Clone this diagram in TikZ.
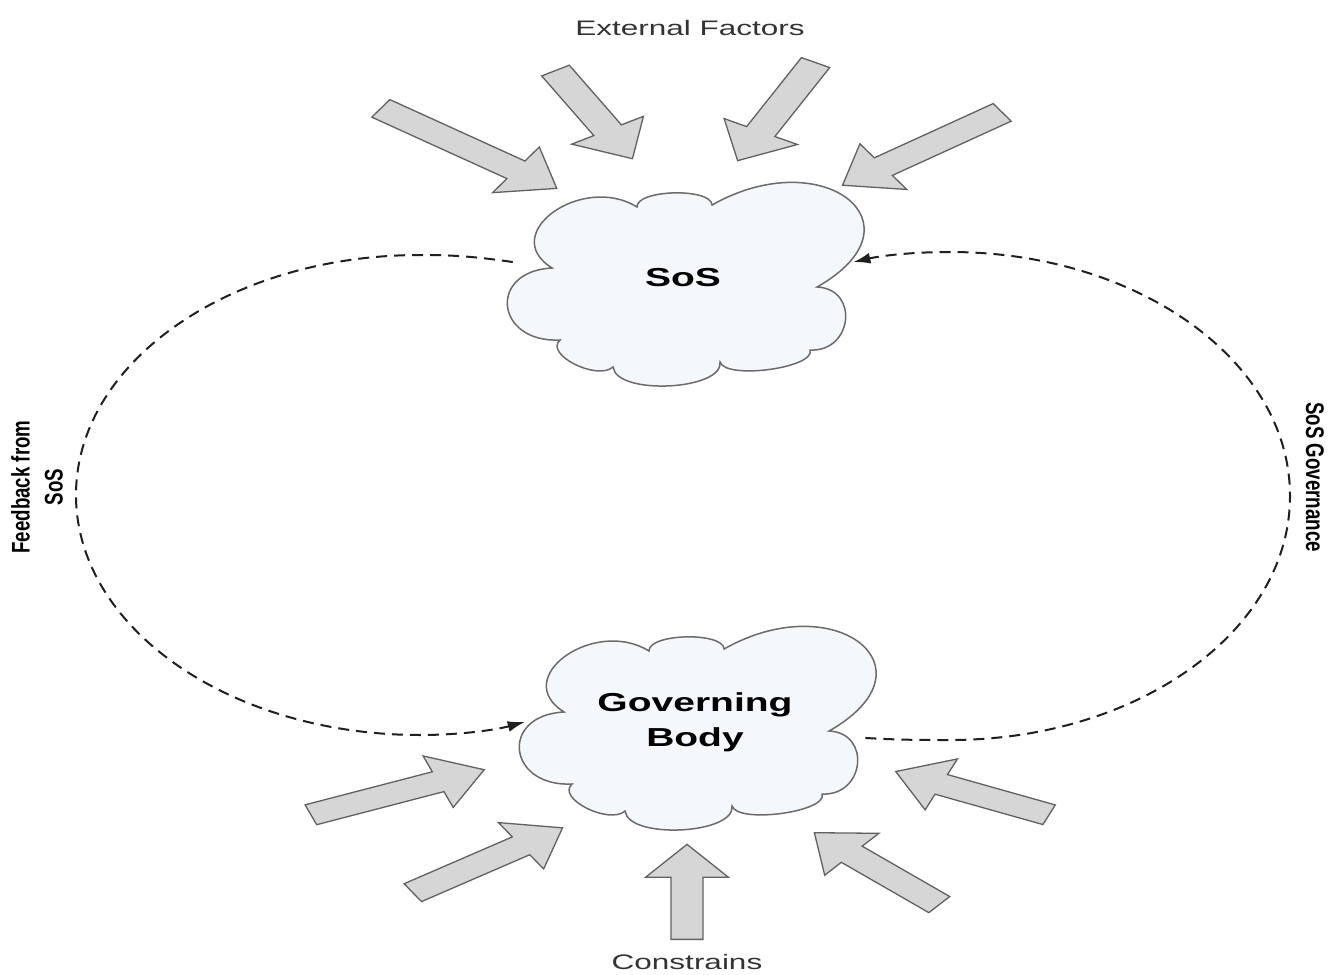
\documentclass[tikz,border=0pt]{standalone}
\usepackage{fontspec}
\setmainfont{Liberation Sans}
\newfontfamily\sidefont[FakeStretch=1.1]{Liberation Sans}
\usetikzlibrary{calc, shapes.arrows, arrows.meta}

\definecolor{cloudfill}{HTML}{F4F7FC}
\definecolor{arrowfill}{HTML}{D6D6D6}

% one puff of a cloud: #1 bulge, from #2 to #3
\newcommand{\puff}[3]{.. controls ($(#2)!#1!90:(#3)$) and ($(#3)!#1!-90:(#2)$) .. (#3)}

\newcommand{\cloudat}[2]{%
  \begin{scope}[shift={#2}]
    \coordinate (#1a) at (-131,-10);
    \coordinate (#1b) at (-46,-71);
    \coordinate (#1c) at (29,-73);
    \coordinate (#1d) at (134,9);
    \coordinate (#1e) at (127,72);
    \coordinate (#1f) at (37,84);
    \coordinate (#1g) at (-70,89);
    \coordinate (#1h) at (-123,62);
  \end{scope}
  \draw[cloudline] (#1a) \puff{0.6}{#1a}{#1b} \puff{0.35}{#1b}{#1c}
    \puff{0.9}{#1c}{#1d} \puff{0.45}{#1d}{#1e} \puff{0.3}{#1e}{#1f}
    \puff{0.4}{#1f}{#1g} \puff{0.4}{#1g}{#1h} \puff{0.6}{#1h}{#1a} -- cycle;
}

\tikzset{
  cloudline/.style={draw=black!58, fill=cloudfill, line width=1.5pt},
  cloudtext/.style={font=\fontsize{26}{35}\selectfont\bfseries, align=center,
    minimum width=226.7pt, minimum height=214pt},
  labeltext/.style={font=\fontsize{21}{25}\selectfont, text=black!80},
  sidetext/.style={font=\sidefont\bfseries\fontsize{17}{22}\selectfont, align=center},
  bigarrow/.style={single arrow, draw=black!62, fill=arrowfill, line width=1.3pt,
    inner sep=0pt, inner ysep=10pt, single arrow head extend=17pt,
    single arrow tip angle=80, anchor=tail},
  feedback/.style={->, draw=black!88, line width=2pt, dash pattern=on 11pt off 7pt}
}

\begin{document}
\begin{tikzpicture}[x=0.666667pt, y=-1pt, xscale=1.5, transform shape,
  >={Latex[length=17pt,width=11pt]}]
\useasboundingbox (0,0) rectangle (1328,975);

\cloudat{sc}{(683,278)}
\cloudat{gc}{(695,722)}

\node[cloudtext] (sos) at (683,278) {SoS};
\node[cloudtext] (gov) at (695,722) {Governing\\Body};

\node[labeltext] (ext) at (690,28) {External Factors};
\node[labeltext] (con) at (687,962) {Constrains};

\node[sidetext, rotate=90] (fb) at (37,487) {Feedback from\\SoS};
\node[sidetext, rotate=-90] (gvn) at (1315,477) {SoS Governance};

% external factors
\node[bigarrow, rotate=-34.3, minimum height=142pt] (ef1) at (380,108) {};
\node[bigarrow, rotate=-59.8, minimum height=102pt] (ef2) at (555,70) {};
\node[bigarrow, rotate=-117.9, minimum height=111pt] (ef3) at (816,62) {};
\node[bigarrow, rotate=-145.6, minimum height=129pt] (ef4) at (1003,112) {};

% constrains
\node[bigarrow, rotate=21.3, minimum height=124pt] (cs1) at (310,815) {};
\node[bigarrow, rotate=33.0, minimum height=119pt] (cs2) at (412,893) {};
\node[bigarrow, rotate=90, minimum height=95pt] (cs3) at (687,940) {};
\node[bigarrow, rotate=139.2, minimum height=110pt] (cs4) at (940,905) {};
\node[bigarrow, rotate=157.1, minimum height=111pt] (cs5) at (1050,815) {};

\draw[feedback] (sos.172) .. controls (465,255) and (440,255) .. (420,255)
  .. controls (230,255) and (76,362) .. (76,495)
  .. controls (76,628) and (230,735) .. (420,735)
  .. controls (460,735) and (495,730) .. (gov.west);
\draw[feedback] (gov.-8) .. controls (900,740) and (920,740) .. (950,740)
  .. controls (1138,740) and (1290,631) .. (1290,496)
  .. controls (1290,361) and (1138,252) .. (950,252)
  .. controls (910,252) and (880,256) .. (sos.8);

\end{tikzpicture}
\end{document}
